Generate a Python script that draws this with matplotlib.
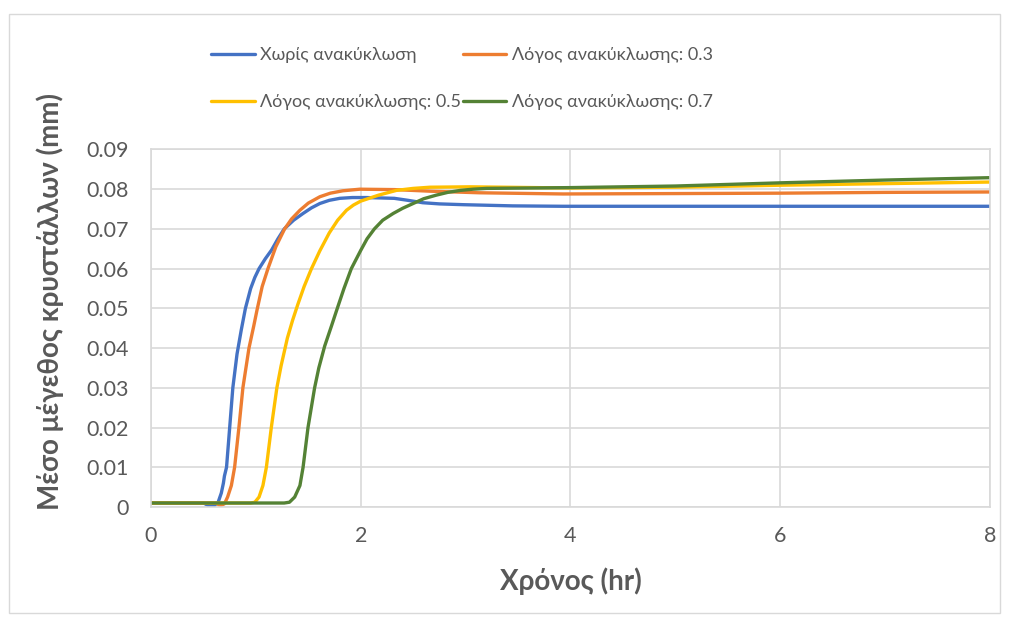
import matplotlib.pyplot as plt
from matplotlib.patches import Rectangle

plt.rcParams['font.family'] = ['Lato', 'DejaVu Sans']

# time (hr) and mean crystal size (mm) for each recycle ratio
t_none = [0, 0.50, 0.56, 0.60, 0.64, 0.67, 0.69, 0.70, 0.72, 0.75, 0.78, 0.82, 0.86, 0.90,
          0.95, 0.99, 1.03, 1.09, 1.15, 1.21, 1.27, 1.36, 1.45, 1.53, 1.61, 1.70, 1.80,
          1.92, 2.05, 2.32, 2.45, 2.59, 2.75, 2.98, 3.45, 3.93, 8]
y_none = [0.001, 0.001, 0.0002, 0.0003, 0.0012, 0.0035, 0.0060, 0.0078, 0.0100, 0.0200,
          0.0300, 0.0385, 0.0445, 0.0500, 0.0550, 0.0578, 0.0600, 0.0625, 0.0647, 0.0675,
          0.0700, 0.0722, 0.0739, 0.0753, 0.0764, 0.0772, 0.0777, 0.0779, 0.0779, 0.0777,
          0.0772, 0.0766, 0.0763, 0.0761, 0.0758, 0.0757, 0.0757]

t_03 = [0, 0.62, 0.66, 0.70, 0.73, 0.766, 0.797, 0.838, 0.876, 0.934, 0.979, 1.01, 1.06,
        1.115, 1.19, 1.274, 1.34, 1.42, 1.50, 1.61, 1.71, 1.83, 1.99, 2.32, 2.66, 3.13,
        3.93, 5, 6, 7, 8]
y_03 = [0.001, 0.001, 0.0003, 0.0008, 0.0025, 0.0054, 0.0100, 0.0200, 0.0300, 0.0400,
        0.0455, 0.0495, 0.0555, 0.0600, 0.0655, 0.0700, 0.0725, 0.0747, 0.0765, 0.0781,
        0.0790, 0.0796, 0.0800, 0.0799, 0.0795, 0.0791, 0.0788, 0.0789, 0.0790, 0.0792,
        0.0793]

t_05 = [0, 0.95, 0.99, 1.03, 1.067, 1.10, 1.147, 1.20, 1.24, 1.30, 1.35, 1.40, 1.46, 1.53,
        1.61, 1.70, 1.78, 1.864, 1.93, 2.0, 2.17, 2.34, 2.50, 2.66, 3.04, 4, 5, 6, 7, 8]
y_05 = [0.001, 0.001, 0.0012, 0.0025, 0.0054, 0.0100, 0.0200, 0.0300, 0.0355, 0.0425,
        0.0470, 0.0510, 0.0555, 0.0600, 0.0645, 0.0690, 0.0722, 0.0747, 0.0760, 0.0770,
        0.0785, 0.0797, 0.0802, 0.0805, 0.0806, 0.0803, 0.0805, 0.0810, 0.0814, 0.0818]

t_07 = [0, 1.27, 1.32, 1.37, 1.42, 1.45, 1.497, 1.56, 1.60, 1.656, 1.72, 1.77, 1.84, 1.91,
        2.0, 2.06, 2.13, 2.21, 2.31, 2.40, 2.50, 2.60, 2.72, 2.83, 2.95, 3.07, 3.20, 4, 5,
        6, 7, 8]
y_07 = [0.001, 0.001, 0.0012, 0.0025, 0.0054, 0.0100, 0.0200, 0.0300, 0.0350, 0.0405,
        0.0455, 0.0495, 0.0550, 0.0600, 0.0646, 0.0675, 0.0700, 0.0722, 0.0739, 0.0752,
        0.0764, 0.0776, 0.0785, 0.0792, 0.0797, 0.0800, 0.0802, 0.0804, 0.0808, 0.0816,
        0.0823, 0.0829]

labels = ['Χωρίς ανακύκλωση', 'Λόγος ανακύκλωσης: 0.3',
          'Λόγος ανακύκλωσης: 0.5', 'Λόγος ανακύκλωσης: 0.7']
colors = ['#4472C4', '#ED7D31', '#FFC000', '#548235']

x_ticks = [0, 2, 4, 6, 8]
y_ticks = [0, 0.01, 0.02, 0.03, 0.04, 0.05, 0.06, 0.07, 0.08, 0.09]

grey = '#595959'
grid = '#D9D9D9'

fig = plt.figure(figsize=(10.09, 6.21), dpi=100)
fig.patches.append(Rectangle((0.009, 0.013), 0.982, 0.965, transform=fig.transFigure,
                             fill=False, edgecolor=grid, linewidth=1))
ax = fig.add_axes([0.1497, 0.1836, 0.8313, 0.5757])

lines = []
for t, y, c, lab in zip([t_none, t_03, t_05, t_07], [y_none, y_03, y_05, y_07], colors, labels):
    ln, = ax.plot(t, y, color=c, linewidth=2.4, label=lab,
                  solid_capstyle='round', solid_joinstyle='round')
    lines.append(ln)

ax.set_xlim(0, 8)
ax.set_ylim(0, 0.09)
ax.set_xticks(x_ticks)
ax.set_xticklabels([str(v) for v in x_ticks])
ax.set_yticks(y_ticks)
ax.set_yticklabels(['0'] + ['%.2f' % v for v in y_ticks[1:]])
ax.grid(True, color=grid, linewidth=1.2)
ax.set_axisbelow(True)
for s in ax.spines.values():
    s.set_color(grid)
    s.set_linewidth(1.2)
ax.tick_params(length=0, labelsize=15.5, labelcolor=grey)
ax.tick_params(axis='y', pad=16)
ax.tick_params(axis='x', pad=14)

ax.set_xlabel('Χρόνος (hr)', fontsize=20, fontweight='bold', color=grey)
ax.set_ylabel('Μέσο μέγεθος κρυστάλλων (mm)', fontsize=20, fontweight='bold', color=grey)
ax.xaxis.set_label_coords(0.5, -0.168)
ax.yaxis.set_label_coords(-0.104, 0.576)

# column-major fill: col 1 = none, 0.5 ; col 2 = 0.3, 0.7
order = [0, 2, 1, 3]
fig.legend(handles=[lines[i] for i in order], labels=[labels[i] for i in order], ncol=2,
           loc='center', bbox_to_anchor=(0.458, 0.8736), frameon=False, fontsize=13,
           labelcolor=grey, handlelength=2.4, handletextpad=0.3, columnspacing=0.1,
           labelspacing=1.7)

fig.savefig('out.png', dpi=100)
